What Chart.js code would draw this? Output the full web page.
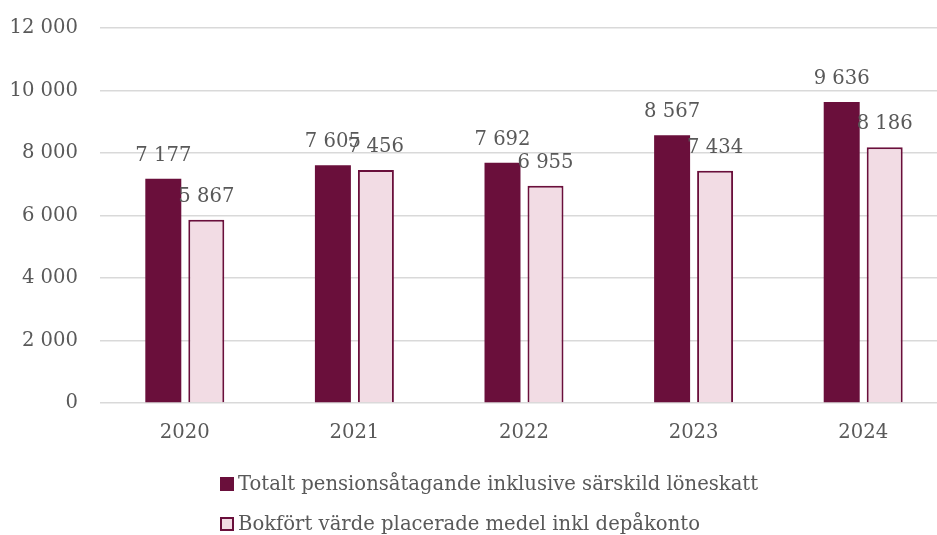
<!DOCTYPE html>
<html><head><meta charset="utf-8">
<script src="https://cdn.jsdelivr.net/npm/chart.js@4/dist/chart.umd.min.js"></script>
<style>
html,body{margin:0;padding:0;background:#fff;overflow:hidden;width:937px;height:535px;}
#wrap{position:absolute;left:0;top:0;width:950px;height:535px;}
#legend{position:absolute;left:220px;top:464px;font-family:"DejaVu Serif";font-size:19.6px;color:#595959;line-height:40px;}
#legend div{display:flex;align-items:center;white-space:nowrap;}
#legend span.box{display:inline-block;width:14px;height:14px;margin-right:4px;box-sizing:border-box;}
</style></head>
<body>
<div id="wrap"><canvas id="c" width="950" height="535"></canvas></div>
<div id="legend"></div>
<script>
const categories = ["2020","2021","2022","2023","2024"];
const seriesNames = ["Totalt pensionsåtagande inklusive särskild löneskatt","Bokfört värde placerade medel inkl depåkonto"];
const totalPension = [7177, 7605, 7692, 8567, 9636];
const bookValue = [5867, 7456, 6955, 7434, 8186];
const yTicks = [0, 2000, 4000, 6000, 8000, 10000, 12000];

const DARK = "#6A0F3B", LIGHT = "#F2DCE4", TXT = "#595959";
const FONT = "DejaVu Serif", FS = 19.6;
const fmt = v => String(v).replace(/\B(?=(\d{3})+(?!\d))/g, " ");

const labelPlugin = {
  id: "barLabels",
  afterDatasetsDraw(chart) {
    const ctx = chart.ctx;
    ctx.save();
    ctx.font = FS + 'px "' + FONT + '"';
    ctx.fillStyle = TXT;
    ctx.textAlign = "center";
    ctx.textBaseline = "middle";
    chart.data.datasets.forEach((ds, di) => {
      chart.getDatasetMeta(di).data.forEach((bar, i) => {
        ctx.fillText(fmt(ds.data[i]), bar.x, bar.y - 23);
      });
    });
    ctx.restore();
  }
};

new Chart(document.getElementById("c"), {
  type: "bar",
  data: {
    labels: categories,
    datasets: [
      {label: seriesNames[0], data: totalPension, backgroundColor: DARK, borderColor: DARK, borderWidth: 0},
      {label: seriesNames[1], data: bookValue, backgroundColor: LIGHT, borderColor: DARK, borderWidth: 2}
    ]
  },
  options: {
    responsive: false,
    animation: false,
    layout: {padding: {top: 28, bottom: 82, left: 0, right: 2}},
    plugins: {legend: {display: false}, tooltip: {enabled: false}},
    datasets: {bar: {categoryPercentage: 0.507, barPercentage: 0.837}},
    scales: {
      x: {
        grid: {display: false},
        border: {display: false},
        ticks: {color: TXT, font: {family: FONT, size: FS}, padding: 10},
        afterFit(s) { s.height = 50; }
      },
      y: {
        min: 0, max: 12000,
        afterBuildTicks(s) { s.ticks = yTicks.map(v => ({value: v})); },
        grid: {color: "#D9D9D9", lineWidth: 1.5, drawTicks: false},
        border: {display: false},
        ticks: {color: TXT, font: {family: FONT, size: FS}, padding: 22, callback: v => fmt(v)},
        afterFit(s) { s.width = 100; s.paddingTop = 0; s.paddingBottom = 0; }
      }
    }
  },
  plugins: [labelPlugin]
});

const lg = document.getElementById("legend");
seriesNames.forEach((n, i) => {
  const d = document.createElement("div");
  const b = document.createElement("span");
  b.className = "box";
  b.style.background = i === 0 ? DARK : LIGHT;
  b.style.border = "2px solid " + DARK;
  d.appendChild(b);
  d.appendChild(document.createTextNode(n));
  lg.appendChild(d);
});
</script>
</body></html>
